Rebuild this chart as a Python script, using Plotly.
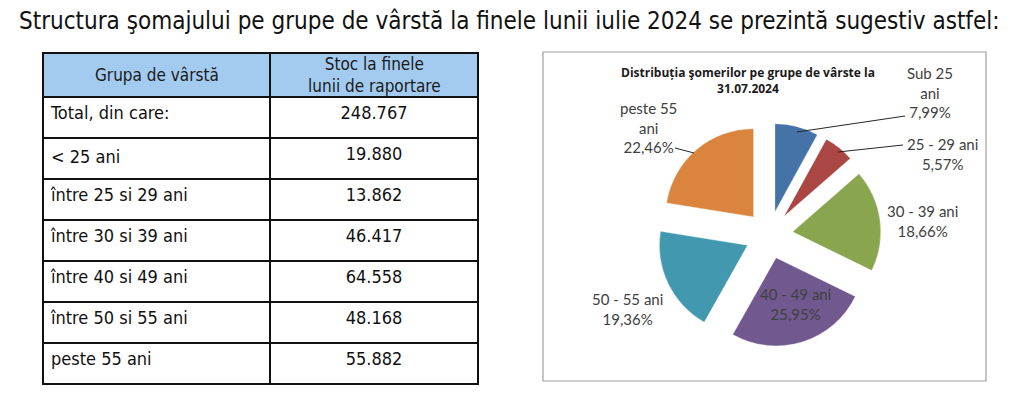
import plotly.graph_objects as go

# ---------------- data ----------------
table_header = ["Grupa de vârstă", "Stoc la finele<br>lunii de raportare"]
age_groups = ["< 25 ani", "între 25 si 29 ani", "între 30 si 39 ani",
              "între 40 si 49 ani", "între 50 si 55 ani", "peste 55 ani"]
stock_values = [19880, 13862, 46417, 64558, 48168, 55882]
total_label = "Total, din care:"

pie_labels = ["Sub 25<br>ani", "25 - 29 ani", "30 - 39 ani",
              "40 - 49 ani", "50 - 55 ani", "peste 55<br>ani"]
pie_colors = ["#4572A7", "#AA4643", "#89A54E", "#71588F", "#4198AF", "#DB843D"]

title_text = "Structura şomajului pe grupe de vârstă la finele lunii iulie 2024 se prezintă sugestiv astfel:"
pie_title = "Distribuția şomerilor pe grupe de vârste la<br>31.07.2024"

# ---------------- helpers ----------------
W, H = 1024, 399
def px(x):
    return x / W
def py(y):
    return 1 - y / H

def fmt_int(v):
    return f"{v:,}".replace(",", ".")

total = sum(stock_values)
col_left = [total_label] + age_groups
col_right = [fmt_int(total)] + [fmt_int(v) for v in stock_values]
pcts = [f"{v / total * 100:.2f}".replace(".", ",") + "%" for v in stock_values]

TFONT = "DejaVu Sans Condensed, DejaVu Sans"
fig = go.Figure()

# ---------------- table ----------------
tx0, tx1, ty0 = 43, 478, 53
col_w = [227, 208]
hdr_h, row_h = 44, 41
fig.add_trace(go.Table(
    domain=dict(x=[px(tx0), px(tx1)], y=[py(ty0 + hdr_h + row_h * len(col_left) + 1), py(ty0)]),
    columnwidth=col_w,
    header=dict(
        values=["", ""],
        fill_color="#A3CBF0",
        line=dict(color="#111111", width=1.5),
        height=hdr_h,
        font=dict(family=TFONT, size=17, color="#1a1a1a"),
    ),
    cells=dict(
        values=[col_left, col_right],
        fill_color="white",
        line=dict(color="#111111", width=1.5),
        align=["left", "center"],
        height=row_h,
        font=dict(family=TFONT, size=18, color="#111111"),
    ),
))

annotations = []
# header labels drawn over the header row
hx = [tx0 + col_w[0] / 2, tx0 + col_w[0] + col_w[1] / 2]
for hv, hxx in zip(table_header, hx):
    annotations.append(dict(
        x=px(hxx), y=py(ty0 + hdr_h / 2), xref="paper", yref="paper", text=hv,
        showarrow=False, xanchor="center", yanchor="middle", align="center",
        font=dict(family=TFONT, size=17, color="#1a1a1a"),
    ))

# ---------------- pie ----------------
R_pull = 0.27
cx, cy, half = 769, 235, 112
fig.add_trace(go.Pie(
    labels=[l.replace("<br>", " ") for l in pie_labels],
    values=stock_values,
    sort=False,
    direction="clockwise",
    rotation=0,
    pull=[R_pull] * len(stock_values),
    marker=dict(colors=pie_colors, line=dict(color="rgba(255,255,255,0.35)", width=1)),
    textinfo="none",
    hoverinfo="label+percent",
    showlegend=False,
    domain=dict(x=[px(cx - half), px(cx + half)], y=[py(cy + half), py(cy - half)]),
))

# label positions (layout only)
label_pos = [(930, 93), (942, 154), (922, 221), (795, 304), (627, 309), (648, 127)]
for lab, pct, (lx, ly) in zip(pie_labels, pcts, label_pos):
    annotations.append(dict(
        x=px(lx), y=py(ly), xref="paper", yref="paper",
        text=f"{lab}<br>{pct}", showarrow=False,
        xanchor="center", yanchor="middle", align="center",
        font=dict(family="Lato, Open Sans", size=15, color="#404040"),
    ))

annotations.append(dict(
    x=px(509), y=py(21), xref="paper", yref="paper", text=title_text,
    showarrow=False, xanchor="center", yanchor="middle",
    font=dict(family=TFONT, size=24, color="#111111"),
))
annotations.append(dict(
    x=px(748), y=py(81), xref="paper", yref="paper", text=f"<b>{pie_title}</b>",
    showarrow=False, xanchor="center", yanchor="middle", align="center",
    font=dict(family="Open Sans, Lato", size=12, color="#1a1a1a"),
))

shapes = [
    dict(type="rect", xref="paper", yref="paper", x0=px(543), x1=px(986), y0=py(381), y1=py(52),
         line=dict(color="#A0A0A0", width=1.2), fillcolor="rgba(0,0,0,0)", layer="below"),
]
leaders = [((797, 132), (905, 116)), ((838, 152), (903, 145)), ((675, 148), (694, 153))]
for (a, b) in leaders:
    shapes.append(dict(type="line", xref="paper", yref="paper",
                       x0=px(a[0]), y0=py(a[1]), x1=px(b[0]), y1=py(b[1]),
                       line=dict(color="#262626", width=1)))

fig.update_layout(
    width=W, height=H,
    margin=dict(l=0, r=0, t=0, b=0),
    paper_bgcolor="white", plot_bgcolor="white",
    annotations=annotations, shapes=shapes,
)

fig.write_html("out.html", config={"displayModeBar": False},
               post_script="document.body.style.margin='0';document.body.style.overflow='hidden';")
